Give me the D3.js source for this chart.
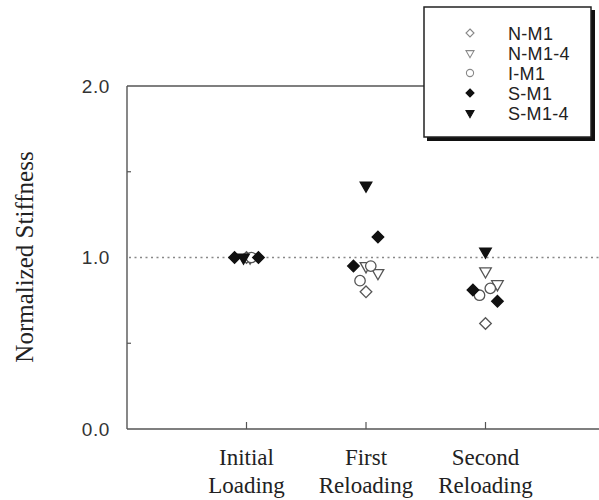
<!DOCTYPE html>
<html>
<head>
<meta charset="utf-8">
<script src="https://cdn.jsdelivr.net/npm/d3@7"></script>
<style>
  html, body { margin: 0; padding: 0; background: #fff; }
  svg { display: block; }
</style>
</head>
<body>
<svg id="chart" width="599" height="500"></svg>
<script>
// ---- data ----
const categories = [["Initial", "Loading"], ["First", "Reloading"], ["Second", "Reloading"]];
const seriesNames = ["N-M1", "N-M1-4", "I-M1", "S-M1", "S-M1-4"];
const yTicks = [0.0, 1.0, 2.0];
const yMinorTicks = [0.5, 1.5];
const referenceValue = 1.0;
// points: [category index, horizontal jitter (category units), normalized stiffness]
const nM1   = [[0, 0.00, 1.00], [1, 0.00, 0.80], [2, 0.00, 0.615]];
const nM14  = [[0, 0.03, 1.00], [1, 0.00, 0.95], [1, 0.10, 0.91], [2, 0.00, 0.92], [2, 0.10, 0.845]];
const iM1   = [[0, 0.04, 1.00], [1, 0.04, 0.95], [1, -0.05, 0.865], [2, 0.04, 0.82], [2, -0.05, 0.78]];
const sM1   = [[0, -0.10, 1.00], [0, 0.10, 1.00], [1, 0.10, 1.12], [1, -0.105, 0.95], [2, -0.105, 0.81], [2, 0.10, 0.745]];
const sM14  = [[0, -0.025, 1.00], [1, 0.00, 1.42], [2, 0.00, 1.035]];
const seriesData = [nM1, nM14, iM1, sM1, sM14];

// ---- styles ----
const shapes = ["diamond", "triangle", "circle", "diamond", "triangle"];
const filled = [false, false, false, true, true];

const svg = d3.select("#chart");
const x = d3.scaleLinear().domain([0, 4]).range([127, 605]);
const y = d3.scaleLinear().domain([0, 2]).range([429, 86]);

function shapePath(shape, s) {
  const p = d3.path();
  if (shape === "diamond") {
    p.moveTo(0, -s); p.lineTo(s, 0); p.lineTo(0, s); p.lineTo(-s, 0); p.closePath();
  } else if (shape === "triangle") {
    const h = s * 1.75;
    p.moveTo(-s, -h / 3); p.lineTo(s, -h / 3); p.lineTo(0, 2 * h / 3); p.closePath();
  } else {
    p.arc(0, 0, s * 0.9, 0, 2 * Math.PI);
  }
  return p.toString();
}

const axisColor = "#555";

// frame: left, bottom, top border
svg.append("line").attr("x1", x(0)).attr("x2", x(0)).attr("y1", y(0)).attr("y2", y(2))
  .attr("stroke", axisColor).attr("stroke-width", 1.4);
svg.append("line").attr("x1", x(0)).attr("x2", 599).attr("y1", y(0)).attr("y2", y(0))
  .attr("stroke", axisColor).attr("stroke-width", 1.4);
svg.append("line").attr("x1", x(0)).attr("x2", 430).attr("y1", y(2)).attr("y2", y(2))
  .attr("stroke", axisColor).attr("stroke-width", 1.4);

// y axis via d3.axisLeft (labels only) + inner ticks
const yAxis = svg.append("g").attr("transform", `translate(${x(0)},0)`)
  .call(d3.axisLeft(y).tickValues(yTicks).tickFormat(d3.format(".1f")).tickSize(0).tickPadding(17));
yAxis.select(".domain").remove();
yAxis.selectAll("text").attr("font-family", "Liberation Sans, Arial, sans-serif")
  .attr("font-size", 19).attr("fill", "#333").attr("letter-spacing", 0.6);
svg.selectAll(".yminor").data(yMinorTicks).enter().append("line")
  .attr("x1", x(0)).attr("x2", x(0) + 4).attr("y1", d => y(d)).attr("y2", d => y(d))
  .attr("stroke", axisColor).attr("stroke-width", 1.2);

// x axis labels + inner ticks
const xAxis = svg.append("g").attr("transform", `translate(0,${y(0)})`)
  .call(d3.axisBottom(x).tickValues([1, 2, 3]).tickSize(0).tickFormat(""));
xAxis.select(".domain").remove();
svg.selectAll(".xtick").data(categories).enter().append("line")
  .attr("x1", (d, i) => x(i + 1)).attr("x2", (d, i) => x(i + 1))
  .attr("y1", y(0)).attr("y2", y(0) - 7)
  .attr("stroke", axisColor).attr("stroke-width", 1.2);
const xl = svg.selectAll(".xlab").data(categories).enter().append("text")
  .attr("x", (d, i) => x(i + 1)).attr("y", 465)
  .attr("text-anchor", "middle")
  .attr("font-family", "Liberation Serif, Times New Roman, serif")
  .attr("font-size", 23).attr("fill", "#222");
xl.selectAll("tspan").data(d => d).enter().append("tspan")
  .attr("x", function() { return d3.select(this.parentNode).attr("x"); })
  .attr("dy", (d, i) => i === 0 ? 0 : 28)
  .text(d => d);

// y axis title
svg.append("text")
  .attr("transform", `translate(33,257) rotate(-90)`)
  .attr("text-anchor", "middle")
  .attr("font-family", "Liberation Serif, Times New Roman, serif")
  .attr("font-size", 25).attr("fill", "#222")
  .text("Normalized Stiffness");

// reference dotted line
svg.append("line").attr("x1", x(0) + 2).attr("x2", 599)
  .attr("y1", y(referenceValue)).attr("y2", y(referenceValue))
  .attr("stroke", "#888").attr("stroke-width", 1.4).attr("stroke-dasharray", "2,3.5");

// points: open series first, filled on top
[0, 1, 2, 3, 4].forEach(si => {
  svg.append("g").selectAll("path").data(seriesData[si]).enter().append("path")
    .attr("transform", d => `translate(${x(d[0] + 1 + d[1])},${y(d[2])})`)
    .attr("d", shapePath(shapes[si], 5.8))
    .attr("fill", filled[si] ? "#111" : "#fff")
    .attr("stroke", filled[si] ? "#111" : "#555")
    .attr("stroke-width", 1.3);
});

// legend
const lg = svg.append("g");
lg.append("rect").attr("x", 427).attr("y", 10).attr("width", 168).attr("height", 131).attr("fill", "#111");
lg.append("rect").attr("x", 424).attr("y", 7).attr("width", 167).attr("height", 130)
  .attr("fill", "#fff").attr("stroke", "#222").attr("stroke-width", 1.5);
const items = lg.selectAll(".li").data(seriesNames).enter().append("g")
  .attr("transform", (d, i) => `translate(470,${33 + i * 20})`);
items.append("path")
  .attr("d", (d, i) => shapePath(shapes[i], 4))
  .attr("fill", (d, i) => filled[i] ? "#111" : "#fff")
  .attr("stroke", (d, i) => filled[i] ? "#111" : "#888")
  .attr("stroke-width", 1.1);
items.append("text").attr("x", 38).attr("y", 6.5)
  .attr("font-family", "Liberation Sans, Arial, sans-serif")
  .attr("font-size", 18).attr("fill", "#222").attr("letter-spacing", 0.3)
  .text(d => d);
</script>
</body>
</html>
